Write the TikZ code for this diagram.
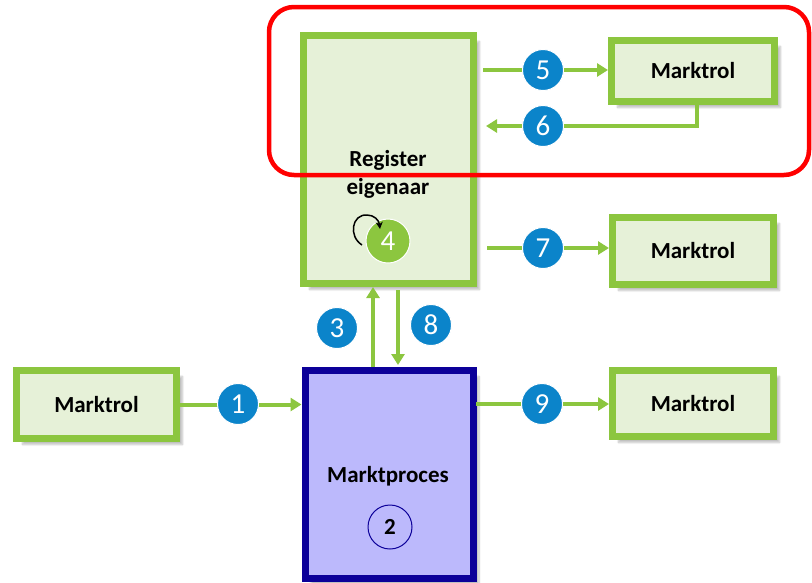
\documentclass[tikz,border=0pt]{standalone}
\usepackage{fontspec}
\setmainfont{Carlito}
\usetikzlibrary{arrows.meta,shadows.blur}
\definecolor{gborder}{HTML}{8CC63F}
\definecolor{gfill}{HTML}{E6F1D8}
\definecolor{bnum}{HTML}{0B84CA}
\definecolor{pborder}{HTML}{0C0099}
\definecolor{pfill}{HTML}{BCB9FC}
\definecolor{gnum}{HTML}{8CC63F}
\tikzset{
  x=1pt,y=-1pt,
  rolebox/.style={draw=gborder,fill=gfill,line width=7pt,inner sep=0pt,
    font=\fontsize{23}{25}\selectfont\bfseries,
    blur shadow={shadow xshift=6pt,shadow yshift=-6pt,shadow blur steps=8,shadow opacity=25}},
  numc/.style={circle,fill=bnum,draw=white,line width=1pt,minimum size=41pt,inner sep=0pt,
    text=white,font=\fontsize{29}{30}\selectfont},
  arr/.style={draw=gborder,line width=4pt,-{Triangle[length=11pt,width=13pt]}},
}
\begin{document}
\begin{tikzpicture}
\useasboundingbox (0,0) rectangle (812,582);
% boxes
\node[rolebox,minimum width=170pt,minimum height=248pt] (reg) at (388.5,159.5) {};
\node[font=\fontsize{23}{28}\selectfont\bfseries,align=center] (regt) at (388,174) {Register\\eigenaar};
\node[rolebox,minimum width=163pt,minimum height=61pt] (m5) at (693,71) {Marktrol};
\node[rolebox,minimum width=161pt,minimum height=67pt] (m7) at (693,251) {Marktrol};
\node[rolebox,minimum width=161pt,minimum height=66pt] (m9) at (693,403.5) {Marktrol};
\node[rolebox,minimum width=160pt,minimum height=68pt] (m1) at (96.5,404.5) {Marktrol};
\node[draw=pborder,fill=pfill,line width=7pt,inner sep=0pt,minimum width=168pt,minimum height=208pt,
  blur shadow={shadow xshift=6pt,shadow yshift=-6pt,shadow blur steps=8,shadow opacity=25}] (mp) at (389,474.5) {};
\node[font=\fontsize{23}{25}\selectfont\bfseries] (mpt) at (388,476) {Marktproces};
\node[circle,draw=pborder,line width=1pt,minimum size=44pt,inner sep=0pt,
  font=\fontsize{23}{25}\selectfont\bfseries] (c2) at (390,527) {2};
% red frame
\draw[red,line width=4.5pt,rounded corners=25pt] (269,7) rectangle (809,175);
% free ends
\coordinate (s5) at (483,70);
\coordinate (e6) at (486,126);
\coordinate (s7) at (487,248);
\coordinate (s9) at (476,404);
\coordinate (t3) at (373,287);
\coordinate (s3) at (373,367);
\coordinate (s8) at (398,290);
\coordinate (e8) at (398,365);
\coordinate (k6) at (697,126);
% connectors
\draw[arr] (m1.east) -- (mp.west |- m1.east);
\draw[arr] (s5) -- (m5.west |- s5);
\draw[arr] (m5.south -| k6) -- (k6) -- (e6);
\draw[arr] (s7) -- (m7.west |- s7);
\draw[arr] (s9) -- (m9.west |- s9);
\draw[arr] (s3) -- (t3);
\draw[arr] (s8) -- (e8);
% numbers
\node[numc] (n1) at (238,404) {1};
\node[numc] (n5) at (543,70) {5};
\node[numc] (n6) at (543,126) {6};
\node[numc] (n7) at (543,248) {7};
\node[numc] (n3) at (337,328) {3};
\node[numc] (n8) at (431,325) {8};
\node[numc] (n9) at (542,404) {9};
\node[circle,fill=gnum,draw=white,line width=1pt,minimum size=44pt,inner sep=0pt,
  text=white,font=\fontsize{29}{30}\selectfont] (n4) at (388,241) {4};
\draw[line width=1.5pt,-{Stealth[length=7pt,width=7pt]}]
  (362,245) .. controls (348,236) and (352,214) .. (367,215)
  .. controls (374,215) and (379,220) .. (380,229);
\end{tikzpicture}
\end{document}
